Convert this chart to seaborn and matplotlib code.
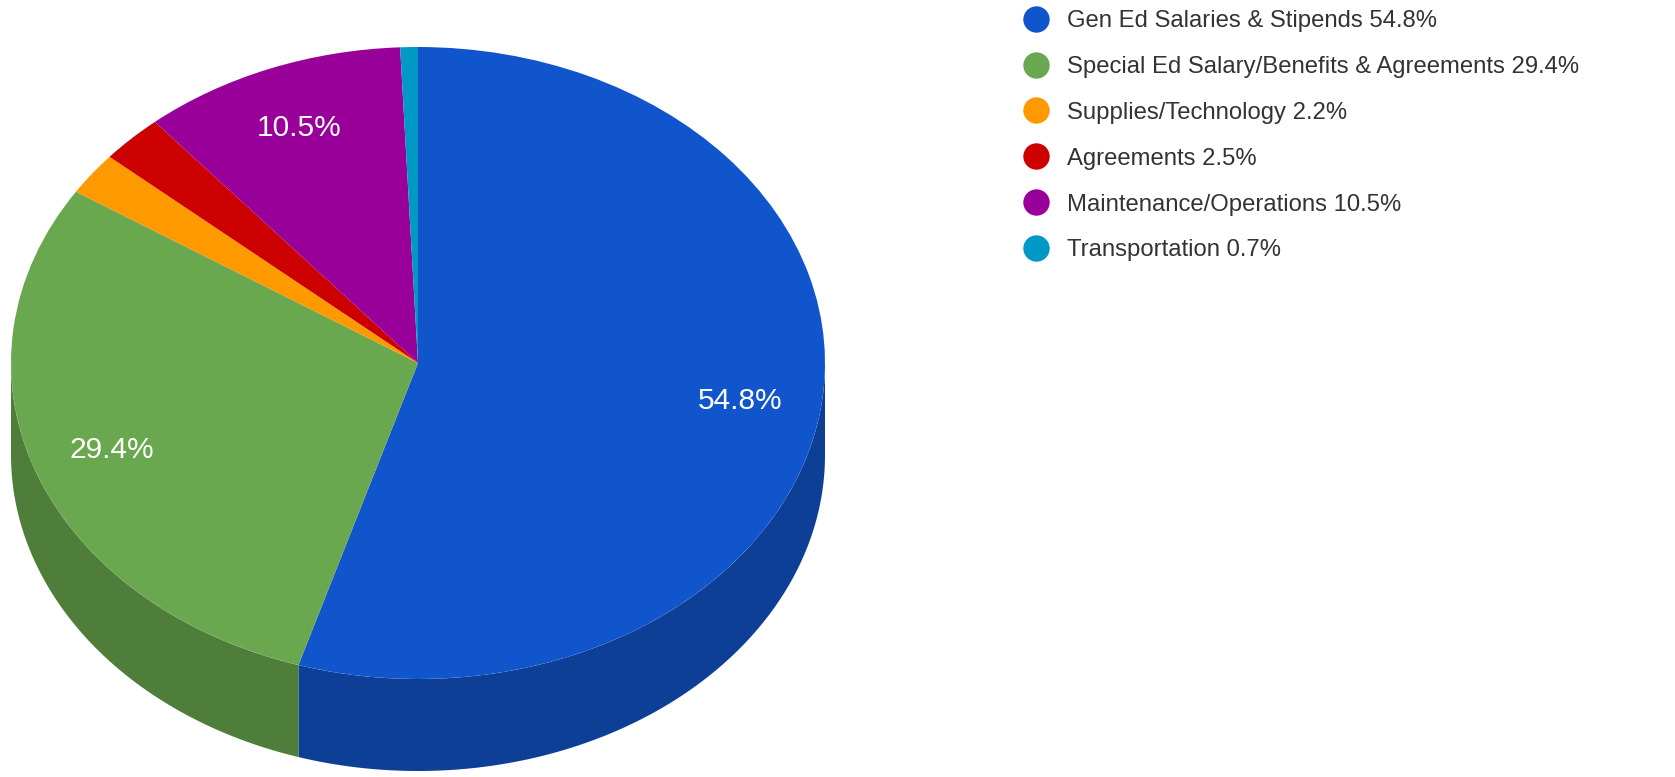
import numpy as np
import matplotlib
matplotlib.use("Agg")
import matplotlib.pyplot as plt
import seaborn as sns
from matplotlib.lines import Line2D
from matplotlib.patches import Polygon

categories = ["Gen Ed Salaries & Stipends", "Special Ed Salary/Benefits & Agreements",
              "Supplies/Technology", "Agreements", "Maintenance/Operations", "Transportation"]
values = [54.8, 29.4, 2.2, 2.5, 10.5, 0.7]
top_colors = ["#1155cc", "#6aa84f", "#ff9900", "#cc0000", "#990099", "#0099c6"]
side_colors = ["#0e3f96", "#4f7e3a", "#c07300", "#990000", "#730073", "#007395"]

sns.set_theme(style="white")
plt.rcParams['font.family'] = ['Liberation Sans', 'DejaVu Sans']

W, H = 1675, 777
fig = plt.figure(figsize=(W / 100, H / 100), dpi=100)
ax = fig.add_axes([0, 0, 1, 1])

cx, cy = 418, 363          # pixel center (from top)
a, b, depth = 407, 316, 92  # semi-axes and side depth in pixels

_vals = iter(values)
def autopct(p):
    v = next(_vals)
    return f"{v:.1f}%" if v >= 5 else ""

wedges, texts, autotexts = ax.pie(values, colors=top_colors, startangle=90,
                                  counterclock=False, radius=1,
                                  autopct=autopct, pctdistance=0.8,
                                  normalize=True,
                                  wedgeprops=dict(linewidth=0, zorder=3),
                                  textprops=dict(color="white", fontsize=21.5))
for t in autotexts:
    t.set_zorder(5)

# side of the 3D pie (front half only)
d = depth / b
total = sum(values)
start = 90.0
for v, sc in zip(values, side_colors):
    end = start - v / total * 360.0
    lo, hi = max(end, -180.0), min(start, 0.0)
    if hi > lo:
        t = np.radians(np.linspace(hi, lo, 200))
        xs = np.cos(t)
        ys = np.sin(t)
        pts = np.concatenate([np.column_stack([xs, ys]),
                              np.column_stack([xs[::-1], ys[::-1] - d])])
        ax.add_patch(Polygon(pts, closed=True, facecolor=sc, edgecolor="none", zorder=2))
    start = end

ax.set_aspect("auto")
ax.set_xlim(-cx / a, (W - cx) / a)
ax.set_ylim(-(H - cy) / b, cy / b)
ax.axis("off")

handles = [Line2D([0], [0], marker="o", linestyle="none", markersize=19,
                  markerfacecolor=c, markeredgecolor="none") for c in top_colors]
labels = [f"{c} {v}%" for c, v in zip(categories, values)]
leg = fig.legend(handles, labels, loc="upper left", bbox_to_anchor=(1022 / W, 1 - 10 / H),
                 frameon=False, fontsize=17.2, labelspacing=1.0, handletextpad=0.68,
                 handlelength=1.2, borderaxespad=0, borderpad=0)
for t in leg.get_texts():
    t.set_color("#333333")

fig.savefig("out.png", dpi=100, facecolor="white")
